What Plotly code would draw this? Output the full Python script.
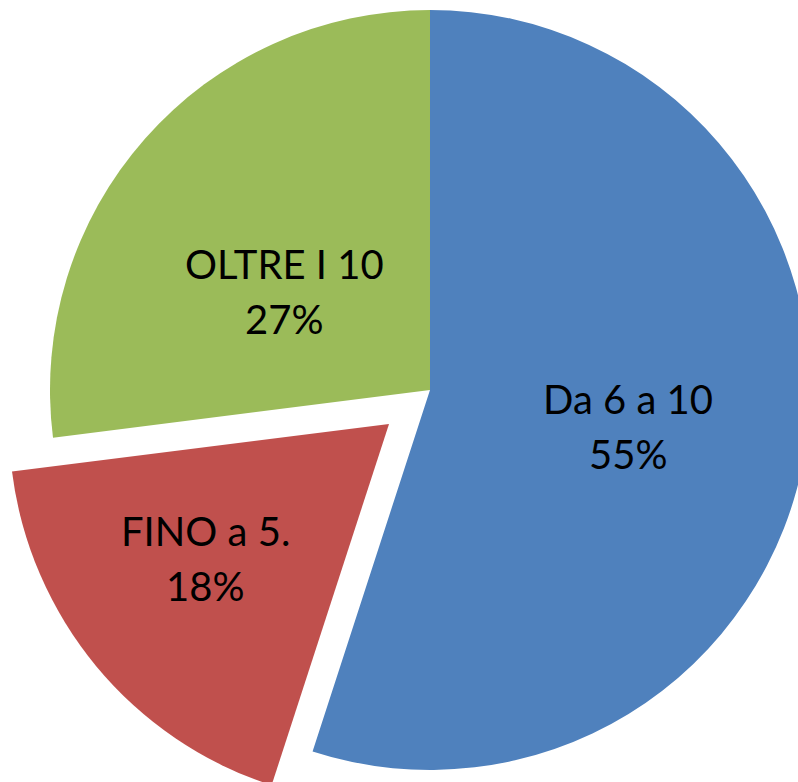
import math
import plotly.graph_objects as go

# ---- data ----
labels = ["Da 6 a 10", "FINO a 5.", "OLTRE I 10"]
values = [55, 18, 27]
colors = ["#4F81BD", "#C0504D", "#9BBB59"]
exploded = "FINO a 5."

# ---- layout geometry (px) ----
W, H = 820, 810
cx, cy, r = 430, 390, 380
pull = 0.14
# label centre offsets (px) from the centre of the pie the slice belongs to
label_offset = {"Da 6 a 10": (198, 36), "FINO a 5.": (-184, 135), "OLTRE I 10": (-146, -99)}
line_gap = 55
font = dict(family="Lato", size=40, color="#000000")

# offset of the exploded slice, derived from its mid-angle (clockwise from 12 o'clock)
idx = labels.index(exploded)
total = sum(values)
mid = 2 * math.pi * (sum(values[:idx]) + values[idx] / 2) / total
ex = cx + pull * r * math.sin(mid)
ey = cy - pull * r * math.cos(mid)


def dom(x0, y0):
    return dict(x=[(x0 - r) / W, (x0 + r) / W],
                y=[1 - (y0 + r) / H, 1 - (y0 - r) / H])


colA = [c if l != exploded else "rgba(0,0,0,0)" for l, c in zip(labels, colors)]
colB = [c if l == exploded else "rgba(0,0,0,0)" for l, c in zip(labels, colors)]

common = dict(labels=labels, values=values, sort=False, direction="clockwise",
              rotation=0, textinfo="none", hoverinfo="skip", showlegend=False)

fig = go.Figure()
fig.add_trace(go.Pie(marker=dict(colors=colB, line=dict(width=0)),
                     domain=dom(ex, ey), **common))
fig.add_trace(go.Pie(marker=dict(colors=colA, line=dict(width=0)),
                     domain=dom(cx, cy), **common))

annotations = []
for l, v in zip(labels, values):
    bx, by = (ex, ey) if l == exploded else (cx, cy)
    dx, dy = label_offset[l]
    px, py = bx + dx, by + dy
    pct = f"{round(100 * v / total)}%"
    for txt, oy in ((l, -line_gap / 2), (pct, line_gap / 2)):
        annotations.append(dict(text=txt, x=px / W, y=1 - (py + oy) / H,
                                xref="paper", yref="paper", xanchor="center",
                                yanchor="middle", showarrow=False, font=font))

fig.update_layout(width=W, height=H, margin=dict(l=0, r=0, t=0, b=0),
                  paper_bgcolor="white", plot_bgcolor="white", showlegend=False,
                  annotations=annotations)

fig.write_html("out.html", config={"displayModeBar": False},
               post_script="document.body.style.margin='0';document.body.style.overflow='hidden';"
                           "document.documentElement.style.overflow='hidden';")
